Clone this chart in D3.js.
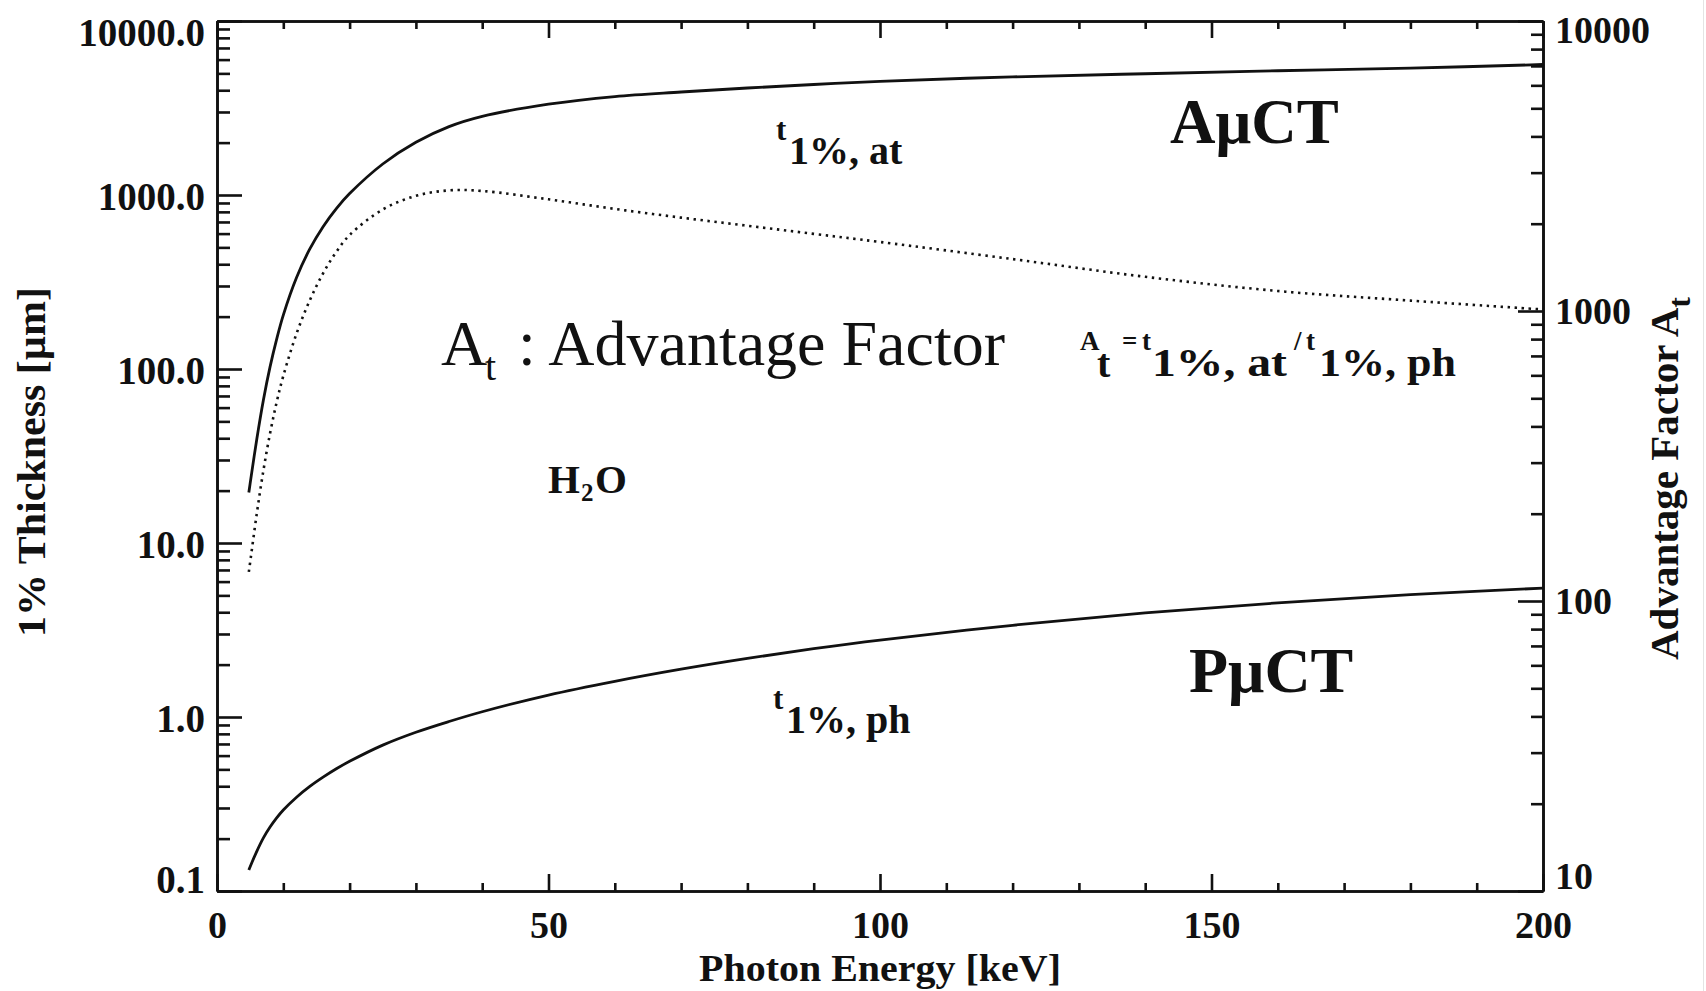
<!DOCTYPE html>
<html>
<head>
<meta charset="utf-8">
<script src="https://cdn.jsdelivr.net/npm/d3@7"></script>
<style>
  html, body { margin: 0; padding: 0; background: #fff; }
  svg { display: block; }
  text { font-family: "Liberation Serif", "Times New Roman", serif; fill: #111; }
</style>
</head>
<body>
<svg id="chart" width="1706" height="991"></svg>
<script>
// Photon energy grid [keV]
const energyKeV = [4.8, 5, 6, 7, 8, 9, 10, 12, 14, 16, 18, 20, 25, 30, 35, 40, 50, 60, 70, 80, 90, 100, 120, 140, 160, 180, 200];
// 1% thickness for absorption contrast [µm] (left axis)
const thicknessAbs = [19.5, 22.0, 39.5, 66.4, 102.8, 148.6, 204.2, 335.7, 489.8, 657.7, 835.6, 1019, 1507, 2009, 2472, 2831, 3327, 3681, 3908, 4121, 4315, 4498, 4775, 4977, 5176, 5358, 5623];
// 1% thickness for phase contrast [µm] (left axis)
const thicknessPhase = [0.132, 0.138, 0.169, 0.202, 0.233, 0.263, 0.292, 0.346, 0.399, 0.451, 0.504, 0.556, 0.689, 0.817, 0.942, 1.072, 1.337, 1.604, 1.884, 2.173, 2.468, 2.767, 3.366, 3.963, 4.530, 5.049, 5.508];
// Advantage factor A_t (right axis)
const advantageFactor = [126, 136, 200, 282, 378, 485, 597, 836, 1089, 1349, 1600, 1828, 2239, 2495, 2606, 2594, 2427, 2249, 2099, 1968, 1845, 1730, 1510, 1312, 1172, 1086, 1012];

// Tick labels
const xTicks = [0, 50, 100, 150, 200];
const leftTicks = [0.1, 1, 10, 100, 1000, 10000];
const rightTicks = [10, 100, 1000, 10000];

const svg = d3.select("#chart");
const L = 217, R = 1543, T = 21, B = 891;
const INK = "#111";

const x = d3.scaleLinear().domain([0, 200]).range([L, R]);
const yL = d3.scaleLog().domain([0.1, 10000]).range([B, T]);
const yR = d3.scaleLog().domain([10, 10000]).range([B, T]);

// minor tick positions: 2..9 inside every decade
const minorOf = decades => {
  const out = [];
  decades.slice(0, -1).forEach(d => { for (let k = 2; k <= 9; k++) out.push(d * k); });
  return out;
};
const leftMinor = minorOf(leftTicks);
const rightMinor = minorOf(rightTicks);
const xMinor = d3.range(10, 200, 10).filter(v => v % 50 !== 0);

function style(g, size) {
  g.attr("font-family", null).attr("font-size", null);
  g.selectAll("path, line").attr("stroke", INK).attr("stroke-width", 2.6);
  g.selectAll("text")
    .attr("font-size", size)
    .attr("font-weight", "bold")
    .attr("fill", INK);
}

// left axis
const gLeft = svg.append("g").attr("transform", `translate(${L},0)`)
  .call(d3.axisLeft(yL).tickValues(leftTicks).tickFormat(d3.format(".1f"))
    .tickSizeInner(-25).tickSizeOuter(0).tickPadding(12));
style(gLeft, 39);
gLeft.selectAll(".tick text").attr("dy", d => d === 10000 ? "24px" : d === 0.1 ? "1px" : "14px");
const gLeftMinor = svg.append("g").attr("transform", `translate(${L},0)`)
  .call(d3.axisLeft(yL).tickValues(leftMinor).tickFormat("").tickSizeInner(-13).tickSizeOuter(0));
style(gLeftMinor, 38);

// right axis
const gRight = svg.append("g").attr("transform", `translate(${R},0)`)
  .call(d3.axisRight(yR).tickValues(rightTicks).tickFormat(d3.format("d"))
    .tickSizeInner(-25).tickSizeOuter(0).tickPadding(12));
style(gRight, 38);
gRight.selectAll(".tick text").attr("dy", d => d === 10000 ? "21px" : d === 10 ? "-3px" : "12px");
const gRightMinor = svg.append("g").attr("transform", `translate(${R},0)`)
  .call(d3.axisRight(yR).tickValues(rightMinor).tickFormat("").tickSizeInner(-12).tickSizeOuter(0));
style(gRightMinor, 38);

// bottom axis
const gBottom = svg.append("g").attr("transform", `translate(0,${B})`)
  .call(d3.axisBottom(x).tickValues(xTicks).tickFormat(d3.format("d"))
    .tickSizeInner(-17).tickSizeOuter(0).tickPadding(20));
style(gBottom, 38);
const gBottomMinor = svg.append("g").attr("transform", `translate(0,${B})`)
  .call(d3.axisBottom(x).tickValues(xMinor).tickFormat("").tickSizeInner(-8).tickSizeOuter(0));
style(gBottomMinor, 38);

// top axis
const gTop = svg.append("g").attr("transform", `translate(0,${T})`)
  .call(d3.axisTop(x).tickValues(xTicks).tickFormat("").tickSizeInner(-17).tickSizeOuter(0));
style(gTop, 38);
const gTopMinor = svg.append("g").attr("transform", `translate(0,${T})`)
  .call(d3.axisTop(x).tickValues(xMinor).tickFormat("").tickSizeInner(-8).tickSizeOuter(0));
style(gTopMinor, 38);

// curves
const smooth = d3.curveCatmullRom.alpha(0.5);
const curveLeft = d3.line()
  .x((d, i) => x(energyKeV[i]))
  .y(d => yL(d))
  .curve(smooth);
const curveRight = d3.line()
  .x((d, i) => x(energyKeV[i]))
  .y(d => yR(d))
  .curve(smooth);

svg.append("path").datum(thicknessAbs).attr("d", curveLeft)
  .attr("fill", "none").attr("stroke", INK).attr("stroke-width", 2.8);
svg.append("path").datum(thicknessPhase).attr("d", curveLeft)
  .attr("fill", "none").attr("stroke", INK).attr("stroke-width", 2.8);
svg.append("path").datum(advantageFactor).attr("d", curveRight)
  .attr("fill", "none").attr("stroke", INK).attr("stroke-width", 2.6)
  .attr("stroke-dasharray", "2.4 4.6");

// axis titles
svg.append("text")
  .attr("transform", "translate(45,637) rotate(-90)")
  .attr("font-size", 41).attr("font-weight", "bold")
  .attr("textLength", 350).attr("lengthAdjust", "spacingAndGlyphs")
  .text("1% Thickness [µm]");

const rt = svg.append("text")
  .attr("transform", "translate(1678,660) rotate(-90)")
  .attr("font-size", 41).attr("font-weight", "bold");
rt.append("tspan").text("Advantage Factor A");
rt.append("tspan").attr("dy", 12).attr("font-size", 32).text("t");

svg.append("text")
  .attr("x", 880).attr("y", 981).attr("text-anchor", "middle")
  .attr("font-size", 38).attr("font-weight", "bold")
  .attr("textLength", 362).attr("lengthAdjust", "spacingAndGlyphs")
  .text("Photon Energy [keV]");

// curve labels
function tLabel(xPos, baseline, sub) {
  const t = svg.append("text").attr("font-weight", "bold");
  t.append("tspan").attr("x", xPos).attr("y", baseline - 24).attr("font-size", 31).text("t");
  t.append("tspan").attr("x", xPos + 13).attr("y", baseline).attr("font-size", 40).text(sub);
}
tLabel(776, 164, "1%, at");
tLabel(773, 733, "1%, ph");

svg.append("text").attr("x", 1170).attr("y", 143)
  .attr("font-size", 63).attr("font-weight", "bold").text("AμCT");
svg.append("text").attr("x", 1189).attr("y", 692)
  .attr("font-size", 64).attr("font-weight", "bold").text("PμCT");

// advantage factor caption
const cap = svg.append("text").attr("font-size", 64);
cap.append("tspan").attr("x", 441).attr("y", 365).text("A");
cap.append("tspan").attr("x", 485).attr("y", 380).attr("font-size", 40).text("t");
cap.append("tspan").attr("x", 502).attr("y", 365).text(" : Advantage Factor");

// definition of the advantage factor
const def = svg.append("text").attr("font-weight", "bold");
def.append("tspan").attr("x", 1080).attr("y", 350).attr("font-size", 27).text("A");
def.append("tspan").attr("x", 1097).attr("y", 377).attr("font-size", 40).text("t");
def.append("tspan").attr("x", 1122).attr("y", 350).attr("font-size", 27).text("=");
def.append("tspan").attr("x", 1142).attr("y", 350).attr("font-size", 27).text("t");
def.append("tspan").attr("x", 1152).attr("y", 376).attr("font-size", 40)
  .attr("textLength", 135).attr("lengthAdjust", "spacingAndGlyphs").text("1%, at");
def.append("tspan").attr("x", 1294).attr("y", 350).attr("font-size", 27).text("/");
def.append("tspan").attr("x", 1306).attr("y", 350).attr("font-size", 27).text("t");
def.append("tspan").attr("x", 1319).attr("y", 376).attr("font-size", 40)
  .attr("textLength", 137).attr("lengthAdjust", "spacingAndGlyphs").text("1%, ph");

// water label
const h2o = svg.append("text").attr("font-weight", "bold");
h2o.append("tspan").attr("x", 548).attr("y", 493).attr("font-size", 41).text("H");
h2o.append("tspan").attr("x", 581).attr("y", 501).attr("font-size", 25).text("2");
h2o.append("tspan").attr("x", 595).attr("y", 493).attr("font-size", 41).text("O");

// faint frame edge on the right
svg.append("line").attr("x1", 1703.5).attr("x2", 1703.5).attr("y1", 0).attr("y2", 991)
  .attr("stroke", "#e4e4e4").attr("stroke-width", 1);
</script>
</body>
</html>
